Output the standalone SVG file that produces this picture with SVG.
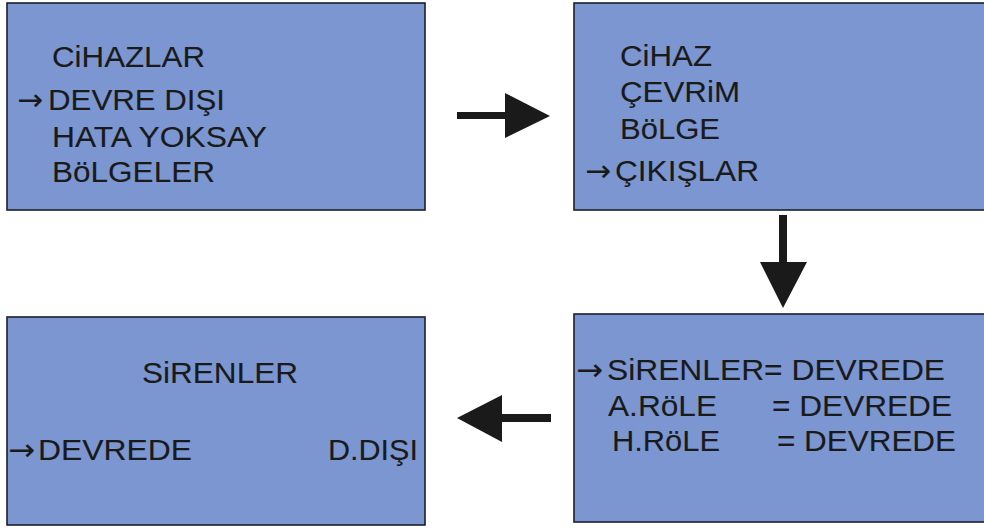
<svg xmlns="http://www.w3.org/2000/svg" width="984" height="528" viewBox="0 0 984 528">
  <style>
    .screen { fill: #7b96d0; stroke: #1b1f2b; stroke-width: 1.6; }
    .t { font-family: "Liberation Sans", Arial, sans-serif; font-size: 30px; fill: #1a1a1a; stroke: #1a1a1a; stroke-width: 0.1; }
    .ptr { font-family: "DejaVu Sans", sans-serif; font-size: 30px; fill: #1a1a1a; }
    .arrow { fill: #1a1a1a; }
  </style>
  <rect width="984" height="528" fill="#ffffff"/>

  <!-- Menu: devices -->
  <g id="menu-cihazlar">
    <rect class="screen" x="7" y="3" width="418" height="207"/>
    <text class="t" x="52" y="67" textLength="153" lengthAdjust="spacingAndGlyphs">CiHAZLAR</text>
    <text class="ptr" x="17" y="110" textLength="26" lengthAdjust="spacingAndGlyphs">→</text>
    <text class="t" x="48" y="110" textLength="177" lengthAdjust="spacingAndGlyphs">DEVRE DIŞI</text>
    <text class="t" x="52" y="147" textLength="215" lengthAdjust="spacingAndGlyphs">HATA YOKSAY</text>
    <text class="t" x="52" y="182" textLength="163" lengthAdjust="spacingAndGlyphs">BöLGELER</text>
  </g>

  <!-- Menu: disable submenu -->
  <g id="menu-devre-disi">
    <rect class="screen" x="574" y="3" width="420" height="207"/>
    <text class="t" x="620" y="66" textLength="92" lengthAdjust="spacingAndGlyphs">CiHAZ</text>
    <text class="t" x="620" y="102" textLength="120" lengthAdjust="spacingAndGlyphs">ÇEVRiM</text>
    <text class="t" x="620" y="139" textLength="100" lengthAdjust="spacingAndGlyphs">BöLGE</text>
    <text class="ptr" x="585" y="181" textLength="26" lengthAdjust="spacingAndGlyphs">→</text>
    <text class="t" x="615" y="181" textLength="144" lengthAdjust="spacingAndGlyphs">ÇIKIŞLAR</text>
  </g>

  <!-- Menu: outputs -->
  <g id="menu-cikislar">
    <rect class="screen" x="574" y="314" width="420" height="208"/>
    <text class="ptr" x="576" y="380" textLength="27" lengthAdjust="spacingAndGlyphs">→</text>
    <text class="t" x="607" y="380" textLength="338" lengthAdjust="spacingAndGlyphs">SiRENLER= DEVREDE</text>
    <text class="t" x="608" y="416" textLength="109" lengthAdjust="spacingAndGlyphs">A.RöLE</text>
    <text class="t" x="772" y="416" textLength="180" lengthAdjust="spacingAndGlyphs">= DEVREDE</text>
    <text class="t" x="612" y="451" textLength="108" lengthAdjust="spacingAndGlyphs">H.RöLE</text>
    <text class="t" x="777" y="451" textLength="179" lengthAdjust="spacingAndGlyphs">= DEVREDE</text>
  </g>

  <!-- Menu: sirens -->
  <g id="menu-sirenler">
    <rect class="screen" x="7" y="317" width="418" height="208"/>
    <text class="t" x="142" y="383" textLength="156" lengthAdjust="spacingAndGlyphs">SiRENLER</text>
    <text class="ptr" x="8" y="460" textLength="27" lengthAdjust="spacingAndGlyphs">→</text>
    <text class="t" x="38" y="460" textLength="154" lengthAdjust="spacingAndGlyphs">DEVREDE</text>
    <text class="t" x="328" y="460" textLength="90" lengthAdjust="spacingAndGlyphs">D.DIŞI</text>
  </g>

  <!-- Block arrows between screens -->
  <g id="connectors">
    <polygon class="arrow" points="457,112 505,112 505,93 550,116 505,138 505,119 457,119"/>
    <polygon class="arrow" points="779,215 787,215 787,262 807,262 783,308 760,262 779,262"/>
    <polygon class="arrow" points="551,414 502,414 502,395 457,418 502,442 502,422 551,422"/>
  </g>
</svg>
